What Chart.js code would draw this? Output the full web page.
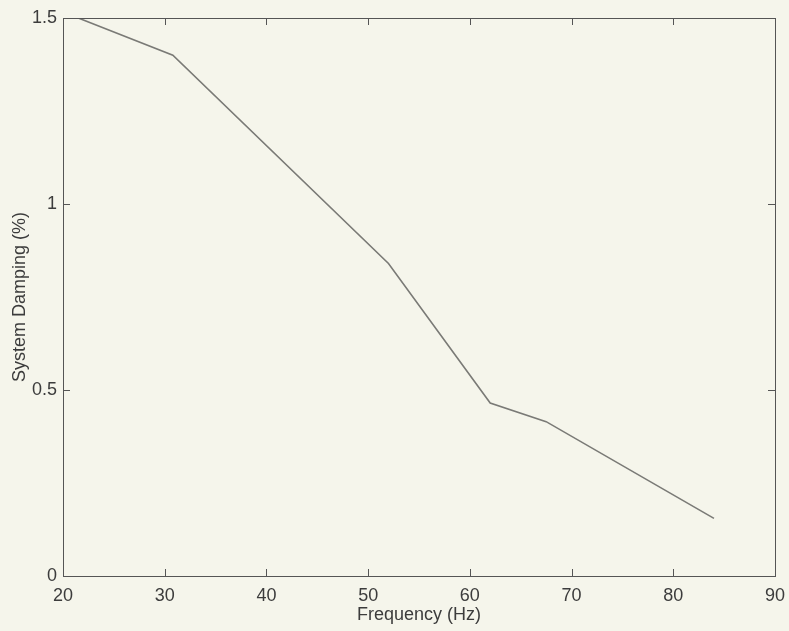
<!DOCTYPE html>
<html>
<head>
<meta charset="utf-8">
<script src="https://cdn.jsdelivr.net/npm/chart.js@4"></script>
<style>
  html, body { margin: 0; padding: 0; background: #f5f5eb; }
  #wrap { width: 789px; height: 631px; }
</style>
</head>
<body>
<div id="wrap"><canvas id="my_Canvas" width="789" height="631"></canvas></div>
<script>
// values
var frequency = [21.5, 30.8, 52, 62, 67.5, 84];
var damping = [1.5, 1.4, 0.84, 0.465, 0.415, 0.155];
var xTicks = [20, 30, 40, 50, 60, 70, 80, 90];
var yTicks = [0, 0.5, 1, 1.5];

var axisColor = "#555555";
var textColor = "#3c3c3c";

// box round the plot and small inward ticks, matlab style
var boxPlugin = {
    id: "box",
    afterDraw: function(chart) {
        var ctx = chart.ctx;
        var a = chart.chartArea;
        var xs = chart.scales.x, ys = chart.scales.y;
        ctx.save();
        ctx.strokeStyle = axisColor;
        ctx.lineWidth = 1;
        ctx.strokeRect(a.left + 0.5, a.top + 0.5, a.right - a.left, a.bottom - a.top);
        ctx.beginPath();
        xTicks.forEach(function(v) {
            var px = Math.round(xs.getPixelForValue(v)) + 0.5;
            ctx.moveTo(px, a.bottom); ctx.lineTo(px, a.bottom - 7);
            ctx.moveTo(px, a.top); ctx.lineTo(px, a.top + 7);
        });
        yTicks.forEach(function(v) {
            var py = Math.round(ys.getPixelForValue(v)) + 0.5;
            ctx.moveTo(a.left, py); ctx.lineTo(a.left + 7, py);
            ctx.moveTo(a.right, py); ctx.lineTo(a.right - 7, py);
        });
        ctx.stroke();
        ctx.restore();
    }
};

var points = frequency.map(function(f, i) { return {x: f, y: damping[i]}; });
var labelFont = { family: "Liberation Sans", size: 18 };

new Chart(document.getElementById("my_Canvas").getContext("2d"), {
    type: "line",
    data: {
        datasets: [{
            label: "System Damping",
            data: points,
            borderColor: "#7a7a76",
            borderWidth: 1.6,
            pointRadius: 0,
            tension: 0,
            fill: false
        }]
    },
    options: {
        responsive: false,
        animation: false,
        layout: { padding: { top: 18, right: 14, left: 0, bottom: 0 } },
        plugins: { legend: { display: false }, tooltip: { enabled: false } },
        scales: {
            x: {
                type: "linear",
                min: 20, max: 90,
                afterFit: function(s) { s.height = 55; s.paddingRight = 0; s.paddingLeft = 0; },
                afterBuildTicks: function(s) { s.ticks = xTicks.map(function(v) { return {value: v}; }); },
                grid: { display: false, drawTicks: false },
                border: { display: false },
                ticks: { padding: 9, color: textColor, font: labelFont, maxRotation: 0 },
                title: { display: true, text: "Frequency (Hz)", color: textColor, font: labelFont, padding: { top: 0, bottom: 5 } }
            },
            y: {
                type: "linear",
                min: 0, max: 1.5,
                afterFit: function(s) { s.width = 63; s.paddingTop = 0; s.paddingBottom = 0; },
                afterBuildTicks: function(s) { s.ticks = yTicks.map(function(v) { return {value: v}; }); },
                grid: { display: false, drawTicks: false },
                border: { display: false },
                ticks: { padding: 6, color: textColor, font: labelFont, callback: function(v) { return String(v); } },
                title: { display: true, text: "System Damping (%)", color: textColor, font: labelFont, padding: { top: 9, bottom: 0 } }
            }
        }
    },
    plugins: [boxPlugin]
});
</script>
</body>
</html>
